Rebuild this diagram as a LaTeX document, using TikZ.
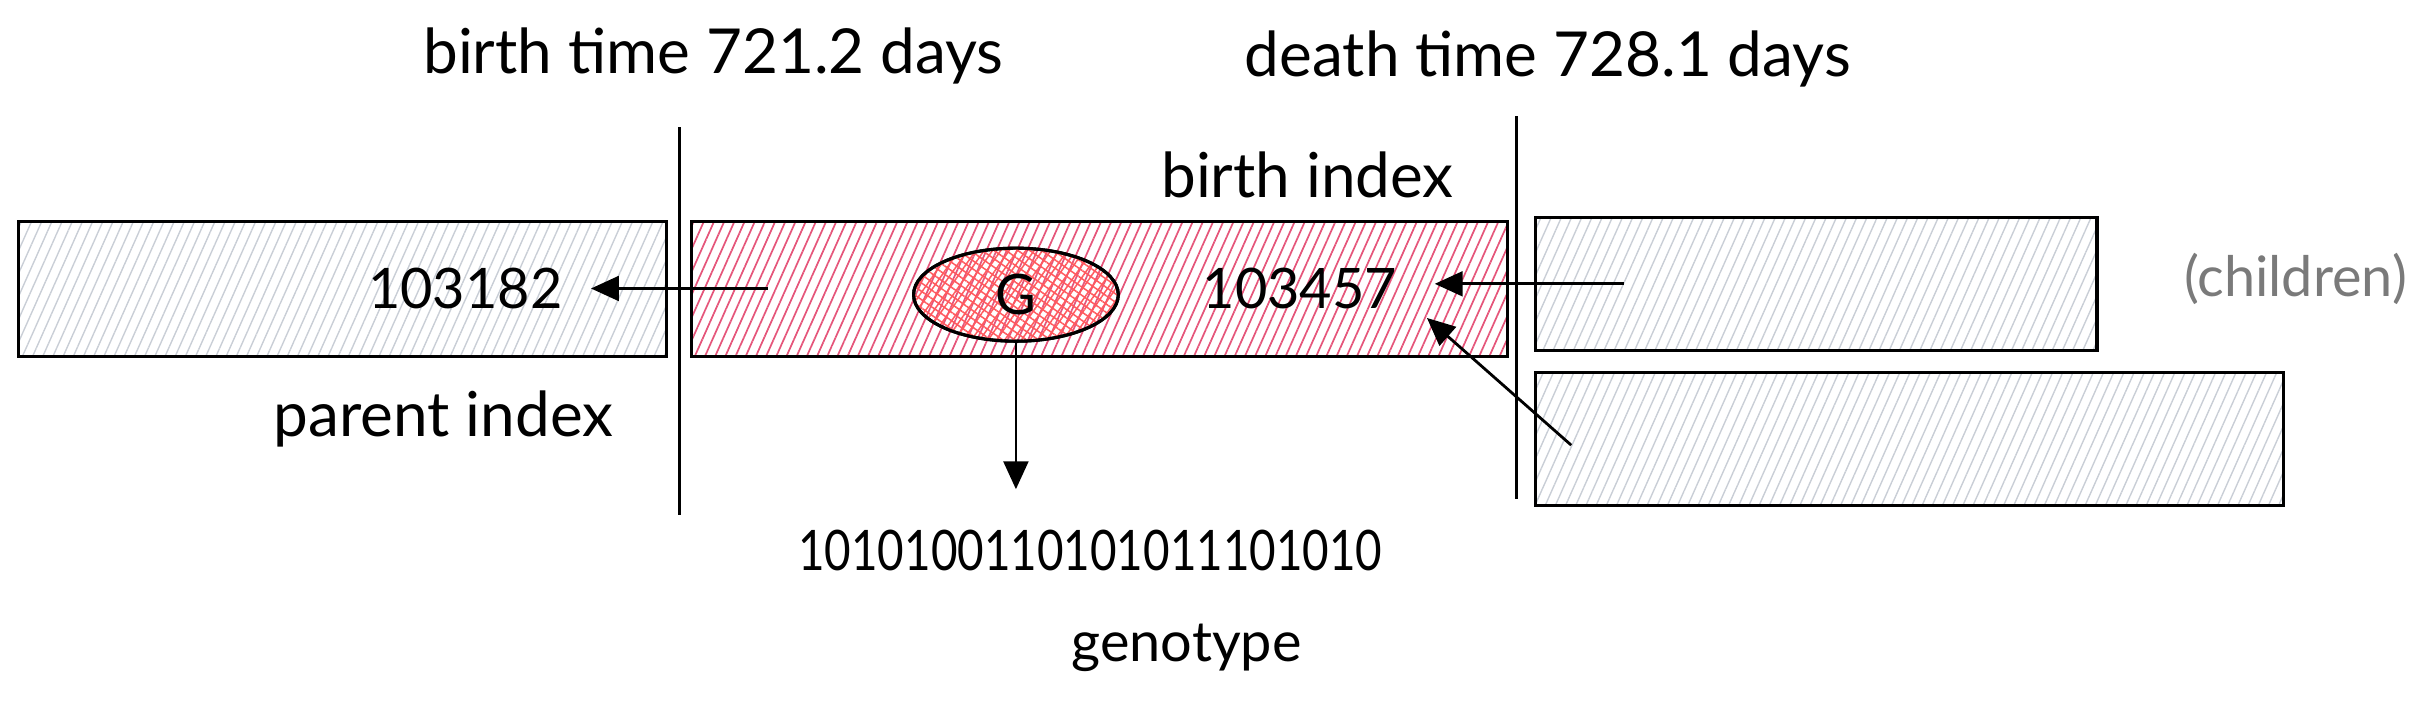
\documentclass[tikz,border=0pt]{standalone}
\usepackage{fontspec}
\setmainfont{Lato}
\usetikzlibrary{arrows.meta,patterns.meta,shapes.geometric}
\definecolor{hatchgray}{HTML}{C9CED6}
\definecolor{hatchred}{HTML}{E5557A}
\definecolor{genered}{HTML}{FF5A5F}
\definecolor{childgray}{HTML}{7A7A7A}
\tikzset{
  graybox/.style={draw=black,line width=1pt,rectangle,inner sep=0pt,
    pattern={Lines[angle=66,distance=3pt,line width=0.45pt]},pattern color=hatchgray},
  redbox/.style={draw=black,line width=1pt,rectangle,inner sep=0pt,
    pattern={Lines[angle=66,distance=3pt,line width=0.55pt]},pattern color=hatchred},
  lbl/.style={font=\fontsize{18}{21}\selectfont,text=black,inner sep=1pt},
  biglbl/.style={font=\fontsize{20}{23}\selectfont,text=black,inner sep=1pt},
  divider/.style={line width=1pt,draw=black},
  conn/.style={line width=0.9pt,-{Triangle[length=9pt,width=8pt]}},
}
\begin{document}
\begin{tikzpicture}[x=0.5pt,y=-0.5pt]
\useasboundingbox (0,0) rectangle (1568,454);
% boxes
\node[graybox,minimum width=209pt,minimum height=43.5pt] (parent) at (221,186.5) {};
\node[redbox,minimum width=263pt,minimum height=43.5pt] (self) at (709,186.5) {};
\node[graybox,minimum width=181pt,minimum height=43pt] (child1) at (1171,183) {};
\node[graybox,minimum width=241pt,minimum height=43pt] (child2) at (1231,283) {};
% genome ellipse
\node[ellipse,draw=black,line width=1pt,minimum width=66pt,minimum height=30pt,inner sep=0pt,
  fill=genered!55,pattern={Lines[angle=55,distance=2.2pt,line width=0.5pt]},pattern color=genered] (gbg) at (655,190) {};
\fill[pattern={Lines[angle=-35,distance=2.2pt,line width=0.5pt]},pattern color=genered] (655,190) ellipse (33pt and 15pt);
\node[ellipse,draw=black,line width=1pt,minimum width=66pt,minimum height=30pt,inner sep=0pt,
  font=\fontsize{18}{21}\selectfont] (gene) at (655,190) {G};
% dividers
\coordinate (d1t) at (438,82); \coordinate (d1b) at (438,332);
\coordinate (d2t) at (978,75); \coordinate (d2b) at (978,322);
\draw[divider] (d1t) -- (d1b);
\draw[divider] (d2t) -- (d2b);
% labels
\node[biglbl] (birthtime) at (460,36) {birth time 721.2 days};
\node[biglbl] (deathtime) at (998,38) {death time 728.1 days};
\node[biglbl] (birthidx) at (843,113) {birth index};
\node[biglbl] (parentidx) at (286,270) {parent index};
\node[lbl,text=childgray] (children) at (1480,180) {(children)};
\node[lbl,inner xsep=9pt] (pid) at (300,186) {103182};
\node[lbl,inner xsep=12pt] (sid) at (838,186) {103457};
\node[lbl] (bits) at (703,355) {\scalebox{0.82}[1]{1010100110101011101010}};
\node[lbl] (genotype) at (765,418) {genotype};
% connectors
\coordinate (a1) at (495,186);
\coordinate (a2) at (1047,183);
\coordinate (a3) at (1013,287);
\coordinate (a3e) at (920,205);
\draw[conn] (a1) -- (pid.east);
\draw[conn] (a2) -- (sid.east |- a2);
\draw[conn] (a3) -- (a3e);
\draw[conn,shorten >=12pt] (gene.south) -- (gene.south |- bits.north);
\end{tikzpicture}
\end{document}
